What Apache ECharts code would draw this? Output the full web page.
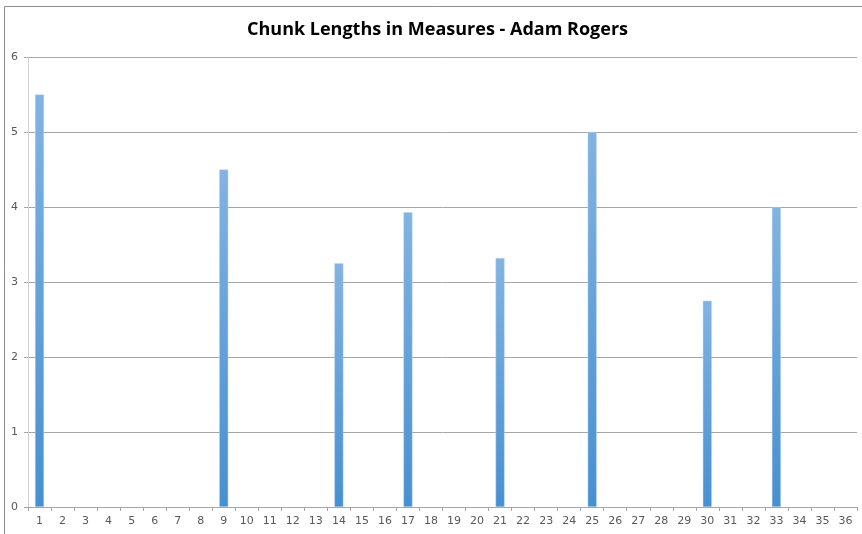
<!DOCTYPE html>
<html>
<head>
<meta charset="utf-8">
<title>Chunk Lengths in Measures - Adam Rogers</title>
<script src="https://cdn.jsdelivr.net/npm/echarts@6/dist/echarts.min.js"></script>
<style>
  html, body { margin: 0; padding: 0; background: #fff; }
  #chart { width: 862px; height: 534px; }
</style>
</head>
<body>
<div id="chart"></div>
<script>
// Measure numbers along the horizontal axis
const measures = [];
for (let m = 1; m <= 36; m++) measures.push(String(m));

// Measures where a chunk starts, and that chunk's length in measures
const chunkStarts = [1, 9, 14, 17, 21, 25, 30, 33];
const chunkLengths = [5.5, 4.5, 3.25, 3.93, 3.32, 5, 2.75, 4];

// Vertical axis ticks
const yTicks = [0, 1, 2, 3, 4, 5, 6];

const seriesData = measures.map(m => {
  const i = chunkStarts.indexOf(Number(m));
  return i >= 0 ? chunkLengths[i] : null;
});

const chart = echarts.init(document.getElementById('chart'), null, { renderer: 'canvas' });
chart.setOption({
  animation: false,
  backgroundColor: '#ffffff',
  title: {
    text: 'Chunk Lengths in Measures - Adam Rogers',
    left: 242,
    top: 16,
    textStyle: {
      fontFamily: 'Open Sans',
      fontWeight: 'bold',
      fontSize: 18,
      color: '#000000'
    }
  },
  graphic: [
    { type: 'line', shape: { x1: 4.5, y1: 6.5, x2: 862, y2: 6.5 }, style: { stroke: '#8c8c8c', lineWidth: 1 } },
    { type: 'line', shape: { x1: 4.5, y1: 6.5, x2: 4.5, y2: 534 }, style: { stroke: '#8c8c8c', lineWidth: 1 } }
  ],
  grid: { left: 28, right: 5, top: 57, bottom: 27, containLabel: false },
  xAxis: {
    type: 'category',
    data: measures,
    axisLine: { show: true, lineStyle: { color: '#a6a6a6' } },
    axisTick: { show: true, alignWithLabel: false, length: 4, lineStyle: { color: '#a6a6a6' } },
    axisLabel: { color: '#595959', fontSize: 11, fontFamily: 'DejaVu Sans', margin: 9, interval: 0 },
    splitLine: { show: false }
  },
  yAxis: {
    type: 'value',
    min: yTicks[0],
    max: yTicks[yTicks.length - 1],
    interval: 1,
    axisLine: { show: true, lineStyle: { color: '#d0d0d0' } },
    axisTick: { show: true, length: 4, lineStyle: { color: '#a6a6a6' } },
    axisLabel: { color: '#595959', fontSize: 11, fontFamily: 'DejaVu Sans', margin: 10 },
    splitLine: { show: true, lineStyle: { color: '#a6a6a6', width: 1 } }
  },
  series: [{
    type: 'bar',
    data: seriesData,
    barWidth: 9,
    itemStyle: {
      color: new echarts.graphic.LinearGradient(0, 0, 0, 1, [
        { offset: 0, color: '#82b3e2' },
        { offset: 1, color: '#4690d1' }
      ]),
      borderColor: 'rgba(190,215,240,0.9)',
      borderWidth: 0.5
    }
  }]
});
</script>
</body>
</html>
